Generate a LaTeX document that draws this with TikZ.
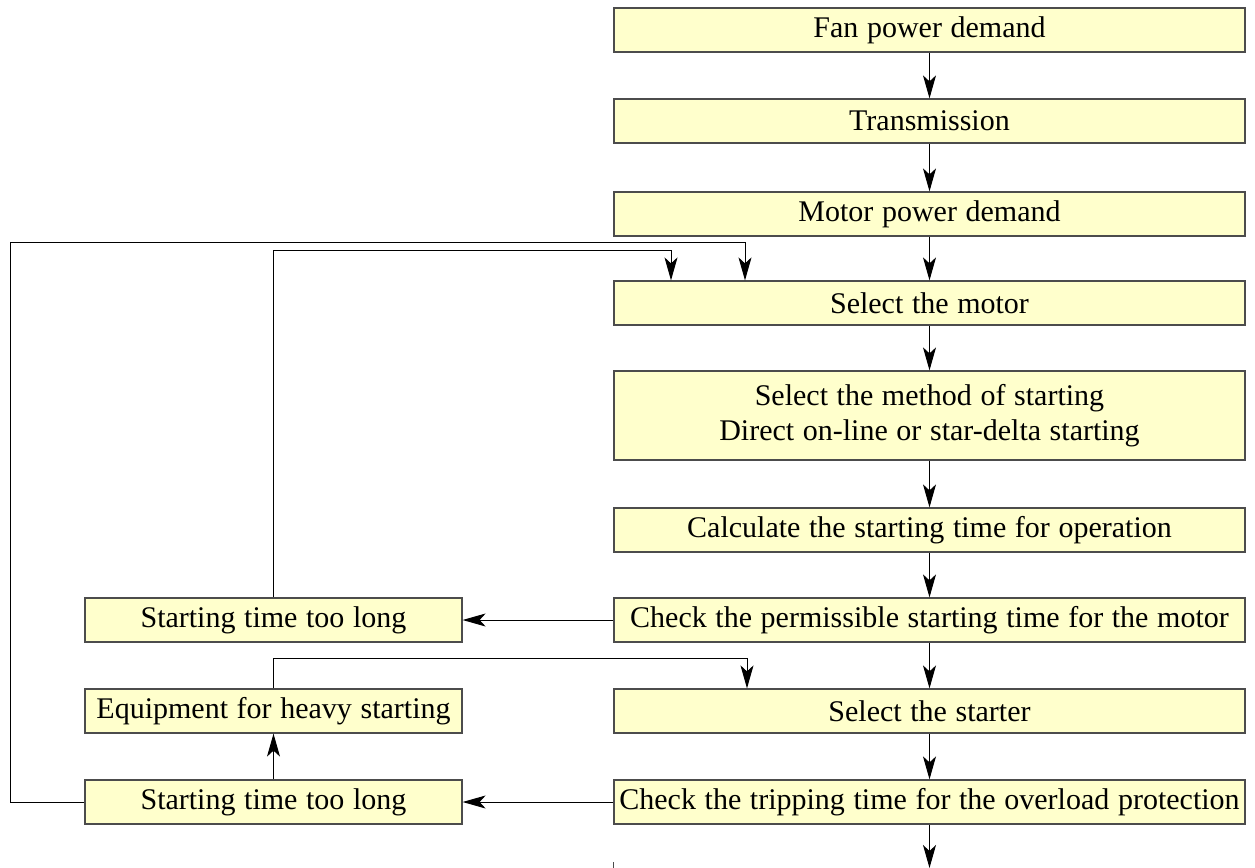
\documentclass[tikz,border=0pt]{standalone}
\usepackage{fontspec}
\setmainfont[WordSpace=1.15]{Liberation Serif}
\usetikzlibrary{arrows.meta}

\tikzset{
	stepbox/.style={draw=black!70, line width=0.6pt, fill={rgb,255:red,255; green,255; blue,204}, inner sep=0pt, align=center, font=\fontsize{15}{17.5}\selectfont},
	rbox/.style={stepbox, minimum width=315.5pt, minimum height=22pt},
	lbox/.style={stepbox, minimum width=188.5pt, minimum height=22pt},
	conn/.style={draw=black, line width=0.5pt, -{Stealth[length=11.5pt,width=6.5pt,inset=3pt]}},
}

\begin{document}
\begin{tikzpicture}[x=0.5pt,y=0.5pt,yscale=-1,xscale=1]
	\useasboundingbox (0,0) rectangle (1255,868);
	
	% right column
	\node [rbox] (fan) at (929.5,30) {Fan power demand};
	\node [rbox] (trans) at (929.5,121) {Transmission};
	\node [rbox] (motor) at (929.5,214) {Motor power demand};
	\node [rbox] (smotor) at (929.5,303) {Select the motor};
	\node [rbox, minimum height=44.5pt] (method) at (929.5,415.5) {Select the method of starting\\Direct on-line or star-delta starting};
	\node [rbox] (calc) at (929.5,530) {Calculate the starting time for operation};
	\node [rbox] (check) at (929.5,620) {Check the permissible starting time for the motor};
	\node [rbox] (starter) at (929.5,711) {Select the starter};
	\node [rbox] (trip) at (929.5,802) {Check the tripping time for the overload protection};
	
	% left column
	\node [lbox] (long1) at (273.5,620) {Starting time too long};
	\node [lbox] (heavy) at (273.5,711) {Equipment for heavy starting};
	\node [lbox] (long2) at (273.5,802) {Starting time too long};
	
	% bends
	\coordinate (outercorner) at (10,242);
	\coordinate (outer) at (745,242);
	\coordinate (inner) at (671,250);
	\coordinate (heavybend) at (747,658);
	\coordinate (exit) at (929.5,868);
	
	% main chain
	\draw [conn] (fan) -- (trans);
	\draw [conn] (trans) -- (motor);
	\draw [conn] (motor) -- (smotor);
	\draw [conn] (smotor) -- (method);
	\draw [conn] (method) -- (calc);
	\draw [conn] (calc) -- (check);
	\draw [conn] (check) -- (starter);
	\draw [conn] (starter) -- (trip);
	\draw [conn] (trip) -- (exit);
	
	% feedback
	\draw [conn] (check) -- (long1);
	\draw [conn] (trip) -- (long2);
	\draw [conn] (long2) -- (heavy);
	\draw [conn] (long1.north) |- (inner) -- (inner |- smotor.north);
	\draw [conn] (long2.west) -| (outercorner) -- (outer) -- (outer |- smotor.north);
	\draw [conn] (heavy.north) |- (heavybend) -- (heavybend |- starter.north);
	
	%Straight Lines
	\draw [draw=black!70, line width=0.5pt] (613,862) -- (613,868);
	
\end{tikzpicture}
\end{document}
